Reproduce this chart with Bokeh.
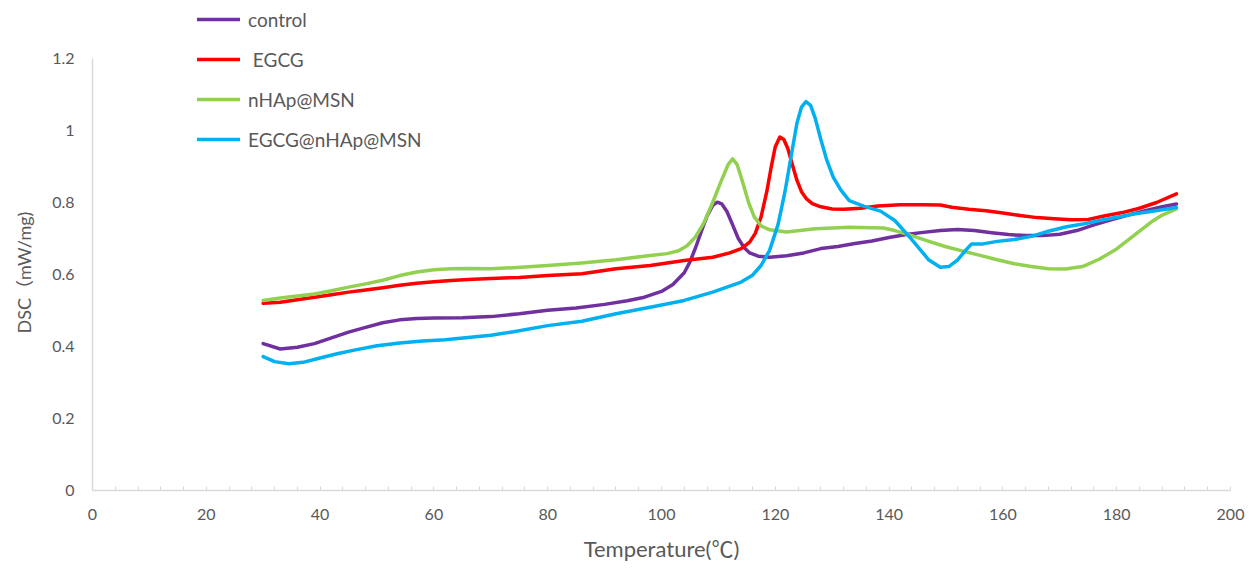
from bokeh.plotting import figure
from bokeh.models import Range1d, FixedTicker, Legend, LegendItem, Title
from bokeh.embed import file_html
from bokeh.resources import INLINE

# ---------------- data ----------------
control_T = [30, 33, 36, 39, 42, 45, 48, 51, 54, 57, 60, 65, 70, 75, 80, 85, 90, 94, 97, 100,
             102, 104, 105, 106, 107, 108, 109, 109.8, 110.6, 111.5, 112.5, 113.5, 114.5, 115.5, 117, 119, 122, 125, 128, 131,
             134, 137, 140, 143, 146, 149, 152, 155, 158, 161, 164, 167, 170, 173, 176, 179, 182, 185, 188, 190.5]
control_y = [0.408, 0.393, 0.398, 0.408, 0.424, 0.44, 0.453, 0.466, 0.474, 0.478, 0.479, 0.480, 0.483, 0.491, 0.501, 0.507, 0.517, 0.527, 0.537, 0.553,
             0.572, 0.605, 0.635, 0.675, 0.72, 0.762, 0.792, 0.801, 0.796, 0.775, 0.738, 0.70, 0.675, 0.66, 0.651, 0.648, 0.652, 0.660, 0.672, 0.678,
             0.686, 0.693, 0.703, 0.711, 0.717, 0.722, 0.725, 0.722, 0.716, 0.711, 0.708, 0.708, 0.712, 0.722, 0.738, 0.752, 0.765, 0.777, 0.788, 0.796]

egcg_T = [30, 33, 36, 39, 42, 45, 48, 51, 54, 57, 60, 63, 66, 70, 75, 80, 86, 92, 98, 104,
          109, 112, 114, 115.5, 116.5, 117.5, 118.5, 119.3, 120, 120.8, 121.5, 122.2, 123, 123.8, 124.6, 125.5, 126.5, 128, 130, 132,
          135, 138, 142, 146, 149, 151, 154, 157, 160, 163, 166, 169, 172, 175, 178, 181, 184, 187, 190.5]
egcg_y = [0.52, 0.523, 0.53, 0.537, 0.544, 0.551, 0.557, 0.563, 0.57, 0.576, 0.58, 0.583, 0.586, 0.589, 0.592, 0.597, 0.602, 0.616, 0.625, 0.639,
          0.648, 0.66, 0.672, 0.69, 0.715, 0.76, 0.83, 0.9, 0.955, 0.982, 0.975, 0.95, 0.905, 0.862, 0.83, 0.81, 0.797, 0.788, 0.782, 0.781,
          0.784, 0.79, 0.794, 0.794, 0.793, 0.787, 0.781, 0.777, 0.771, 0.764, 0.758, 0.755, 0.752, 0.753, 0.763, 0.772, 0.784, 0.8, 0.824]

nhap_T = [30, 33, 36, 39, 42, 45, 48, 51, 54, 57, 60, 63, 66, 70, 74, 80, 86, 92, 98, 101,
          103, 104.5, 106, 107.5, 109, 110.5, 111.7, 112.5, 113.3, 114.3, 115.3, 116.3, 117.5, 119, 122, 127, 133, 139, 141, 144,
          147, 150, 153, 156, 159, 162, 165, 168, 171, 174, 177, 180, 183, 186, 188, 190.5]
nhap_y = [0.528, 0.535, 0.54, 0.546, 0.555, 0.565, 0.574, 0.584, 0.597, 0.607, 0.613, 0.616, 0.617, 0.616, 0.619, 0.625, 0.632, 0.641, 0.653, 0.658,
          0.666, 0.68, 0.705, 0.745, 0.8, 0.86, 0.905, 0.921, 0.905, 0.855, 0.8, 0.76, 0.735, 0.724, 0.718, 0.727, 0.731, 0.729, 0.722, 0.708,
          0.692, 0.677, 0.665, 0.653, 0.641, 0.63, 0.622, 0.616, 0.615, 0.622, 0.643, 0.671, 0.708, 0.745, 0.765, 0.782]

combo_T = [30, 32, 34.5, 37, 40, 43, 46, 50, 54, 58, 62, 66, 70, 74, 80, 86, 92, 98, 104, 109,
           114, 116, 117.5, 119, 120.5, 121.7, 122.8, 123.8, 124.6, 125.4, 126.2, 127, 128, 129, 130.2, 131.5, 133, 135.5, 138.5, 141,
           144, 147, 149, 150.5, 152, 153.5, 154.5, 156.5, 159, 162, 165, 168, 171, 174, 177, 180, 183, 186, 188, 190.5]
combo_y = [0.372, 0.358, 0.352, 0.356, 0.368, 0.38, 0.39, 0.402, 0.41, 0.415, 0.419, 0.425, 0.431, 0.441, 0.458, 0.47, 0.491, 0.509, 0.528, 0.551,
           0.579, 0.598, 0.625, 0.667, 0.74, 0.83, 0.93, 1.02, 1.065, 1.08, 1.07, 1.035, 0.975, 0.92, 0.87, 0.835, 0.805, 0.79, 0.776, 0.75,
           0.697, 0.64, 0.62, 0.622, 0.64, 0.668, 0.685, 0.685, 0.692, 0.697, 0.706, 0.72, 0.732, 0.74, 0.75, 0.759, 0.768, 0.775, 0.78, 0.786]

series_names = ["control", " EGCG", "nHAp@MSN", "EGCG@nHAp@MSN"]
series_colors = ["#7030A0", "#FF0000", "#92D050", "#00B0F0"]

x_ticks = list(range(0, 201, 4))
x_labels = {t: (str(t) if t % 20 == 0 else "") for t in x_ticks}
y_ticks = [0, 0.2, 0.4, 0.6, 0.8, 1.0, 1.2]
y_labels = {0: "0", 0.2: "0.2", 0.4: "0.4", 0.6: "0.6", 0.8: "0.8", 1.0: "1", 1.2: "1.2"}

FONT = "Lato, 'Noto Sans CJK SC', sans-serif"
GRAY = "#595959"
AXIS = "#D9D9D9"

# frame spans from the top of the page down to the x axis; the y axis itself is bounded to 0..1.2
Y_TOP = 1.2 * 490 / 432
p = figure(width=1249, height=570, x_range=Range1d(0, 200), y_range=Range1d(0, Y_TOP),
           output_backend="svg", toolbar_location=None,
           min_border_left=92, min_border_right=19, min_border_top=0, min_border_bottom=80)
p.outline_line_color = None
p.xgrid.visible = False
p.ygrid.visible = False

renderers = []
for T, Y, c in zip([control_T, egcg_T, nhap_T, combo_T], [control_y, egcg_y, nhap_y, combo_y], series_colors):
    r = p.line(T, Y, line_color=c, line_width=3.5, line_join="round", line_cap="round")
    renderers.append(r)

# x axis
xa = p.xaxis[0]
xa.ticker = FixedTicker(ticks=x_ticks)
xa.major_label_overrides = x_labels
xa.axis_line_color = AXIS
xa.axis_line_width = 1.5
xa.major_tick_line_color = AXIS
xa.major_tick_in = 4
xa.major_tick_out = 0
xa.minor_tick_line_color = None
xa.major_label_standoff = 18
xa.major_label_text_font = FONT
xa.major_label_text_font_size = "16px"
xa.major_label_text_color = GRAY
xa.axis_label = "Temperature(℃)"
xa.axis_label_text_font = FONT
xa.axis_label_text_font_size = "22px"
xa.axis_label_text_font_style = "normal"
xa.axis_label_text_color = GRAY
xa.axis_label_standoff = 12

# y axis
ya = p.yaxis[0]
ya.bounds = (0, 1.2)
ya.ticker = FixedTicker(ticks=y_ticks)
ya.major_label_overrides = y_labels
ya.axis_line_color = AXIS
ya.axis_line_width = 1.5
ya.major_tick_line_color = None
ya.major_tick_in = 0
ya.major_tick_out = 0
ya.minor_tick_line_color = None
ya.major_label_standoff = 18
ya.major_label_text_font = FONT
ya.major_label_text_font_size = "16px"
ya.major_label_text_color = GRAY
ya.axis_label = None

ytitle = Title(text="DSC（mW/mg)", align="left", offset=157, standoff=25, vertical_align="top",
               text_font=FONT, text_font_size="18px", text_font_style="normal", text_color=GRAY)
p.add_layout(ytitle, "left")

legend = Legend(items=[LegendItem(label=n, renderers=[r]) for n, r in zip(series_names, renderers)],
                location=(105, 339), orientation="vertical",
                border_line_color=None, background_fill_alpha=0,
                padding=0, margin=0, spacing=16, label_height=24, glyph_height=24, glyph_width=43,
                label_standoff=8, label_text_font=FONT, label_text_font_size="19px",
                label_text_color=GRAY)
p.add_layout(legend)

open("out.html", "w").write(file_html(p, INLINE))
